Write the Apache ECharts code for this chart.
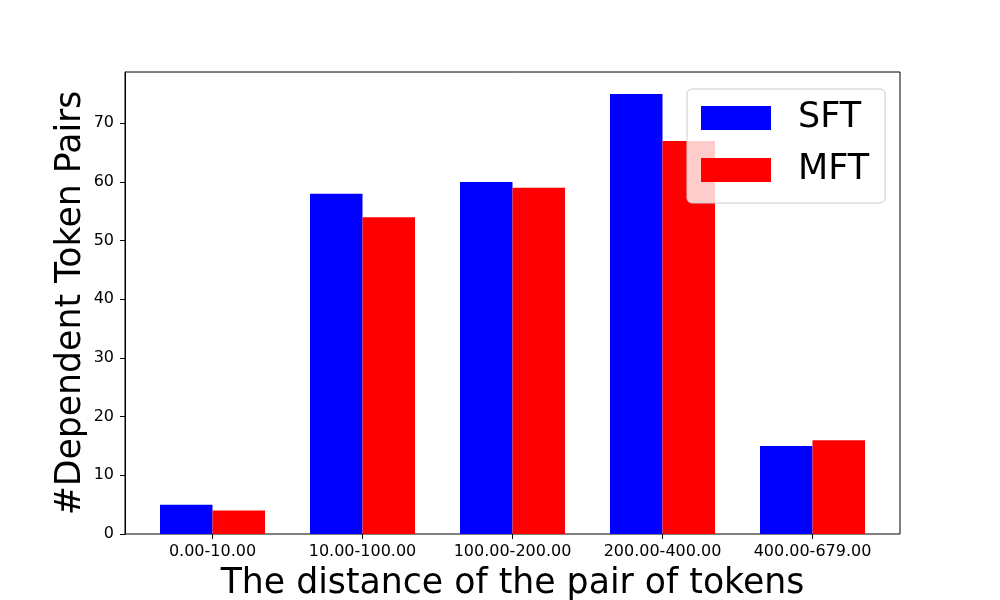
<!DOCTYPE html>
<html>
<head>
<meta charset="utf-8">
<script src="https://cdn.jsdelivr.net/npm/echarts@6/dist/echarts.min.js"></script>
<style>
  html, body { margin: 0; padding: 0; background: #fff; }
  #chart { width: 1000px; height: 600px; }
</style>
</head>
<body>
<div id="chart"></div>
<script>
const categories = ["0.00-10.00", "10.00-100.00", "100.00-200.00", "200.00-400.00", "400.00-679.00"];
const sftValues = [5, 58, 60, 75, 15];
const mftValues = [4, 54, 59, 67, 16];
const seriesNames = ["SFT", "MFT"];

const font = "DejaVu Sans";
const chart = echarts.init(document.getElementById("chart"), null, { renderer: "canvas" });

const option = {
  backgroundColor: "#fff",
  animation: false,
  textStyle: { fontFamily: font, color: "#000" },
  // grid 0 draws the frame + y axis, grid 1 holds the bars (matplotlib-like margins)
  grid: [
    { left: 125, top: 72, width: 775, height: 462, outerBoundsMode: "none", show: true, borderColor: "#000", borderWidth: 1, backgroundColor: "transparent" },
    { left: 137.5, top: 72, width: 750, height: 462, outerBoundsMode: "none" }
  ],
  legend: {
    data: seriesNames,
    orient: "vertical",
    left: 687,
    top: 89,
    itemWidth: 70,
    itemHeight: 24,
    itemGap: 16,
    padding: [11, 16, 15, 14],
    backgroundColor: "rgba(255,255,255,0.8)",
    borderColor: "#cccccc",
    borderWidth: 1,
    borderRadius: 5,
    selectedMode: false,
    icon: "rect",
    textStyle: { fontFamily: font, fontSize: 35, lineHeight: 36, color: "#000", padding: [0, 0, 0, 22] }
  },
  xAxis: [
    { gridIndex: 0, type: "value", min: 0, max: 1, show: false },
    {
      gridIndex: 1,
      type: "category",
      data: categories,
      axisLine: { show: false },
      axisTick: { show: true, alignWithLabel: true, length: 5, lineStyle: { color: "#000" } },
      axisLabel: { fontFamily: font, fontSize: 16, color: "#000", margin: 10, interval: 0 },
      name: "The distance of the pair of tokens",
      nameLocation: "middle",
      nameGap: 32,
      nameTextStyle: { fontFamily: font, fontSize: 34.7, color: "#000" }
    }
  ],
  yAxis: [
    {
      gridIndex: 0,
      type: "value",
      min: 0,
      max: 78.75,
      interval: 10,
      splitLine: { show: false },
      axisLine: { show: true, lineStyle: { color: "#000" } },
      axisTick: { show: true, length: 5, lineStyle: { color: "#000" } },
      axisLabel: { fontFamily: font, fontSize: 16, color: "#000", margin: 11, showMaxLabel: false },
      name: "#Dependent Token Pairs",
      nameLocation: "middle",
      nameGap: 37,
      nameMoveOverlap: false,
      nameTextStyle: { fontFamily: font, fontSize: 34.7, color: "#000" }
    },
    { gridIndex: 1, type: "value", min: 0, max: 78.75, show: false }
  ],
  series: [
    {
      name: seriesNames[0],
      type: "bar",
      xAxisIndex: 1,
      yAxisIndex: 1,
      data: sftValues,
      barWidth: 52.5,
      barGap: "0%",
      itemStyle: { color: "#0000ff" }
    },
    {
      name: seriesNames[1],
      type: "bar",
      xAxisIndex: 1,
      yAxisIndex: 1,
      data: mftValues,
      barWidth: 52.5,
      barGap: "0%",
      itemStyle: { color: "#ff0000" }
    }
  ]
};

chart.setOption(option);
</script>
</body>
</html>
